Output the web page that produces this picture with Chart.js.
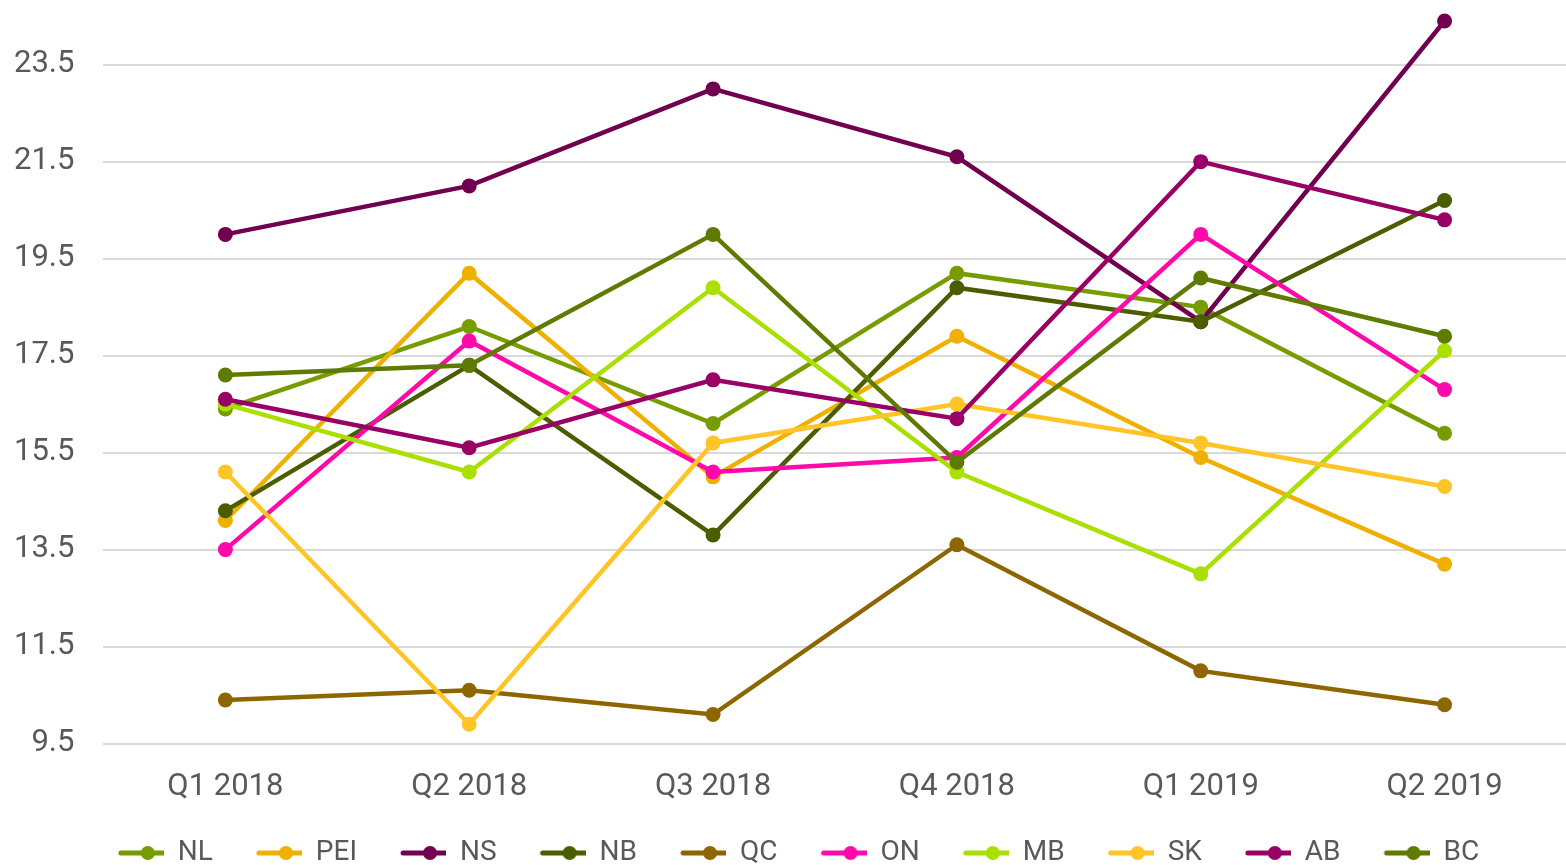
<!DOCTYPE html>
<html>
<head>
<meta charset="utf-8">
<script src="https://cdn.jsdelivr.net/npm/chart.js@4/dist/chart.umd.min.js"></script>
<style>
  html, body { margin: 0; padding: 0; background: #fff; overflow: hidden; }
  #wrap { width: 1574px; height: 907px; margin-top: -30px; }
</style>
</head>
<body>
<div id="wrap"><canvas id="lineChart"></canvas></div>
<script>
// Quarterly values by province
const quarters = ["Q1 2018", "Q2 2018", "Q3 2018", "Q4 2018", "Q1 2019", "Q2 2019"];
const yTicks = [9.5, 11.5, 13.5, 15.5, 17.5, 19.5, 21.5, 23.5];

const NL  = [16.4, 18.1, 16.1, 19.2, 18.5, 15.9];
const PEI = [14.1, 19.2, 15.0, 17.9, 15.4, 13.2];
const NS  = [20.0, 21.0, 23.0, 21.6, 18.2, 24.4];
const NB  = [14.3, 17.3, 13.8, 18.9, 18.2, 20.7];
const QC  = [10.4, 10.6, 10.1, 13.6, 11.0, 10.3];
const ON  = [13.5, 17.8, 15.1, 15.4, 20.0, 16.8];
const MB  = [16.5, 15.1, 18.9, 15.1, 13.0, 17.6];
const SK  = [15.1, 9.9, 15.7, 16.5, 15.7, 14.8];
const AB  = [16.6, 15.6, 17.0, 16.2, 21.5, 20.3];
const BC  = [17.1, 17.3, 20.0, 15.3, 19.1, 17.9];

const series = [
  ["NL", NL, "#779c00"],
  ["PEI", PEI, "#efb000"],
  ["NS", NS, "#70004f"],
  ["NB", NB, "#4a5d00"],
  ["QC", QC, "#8e6600"],
  ["ON", ON, "#ff0aaa"],
  ["MB", MB, "#a9e000"],
  ["SK", SK, "#ffc425"],
  ["AB", AB, "#990066"],
  ["BC", BC, "#5e7b00"]
];

// legend marker: short line with a dot, transparent gap on the left for spacing
const MARK_GAP = 38;
const MARK_W = MARK_GAP + 46;
function legendMarker(color) {
  const c = document.createElement("canvas");
  c.width = MARK_W; c.height = 18;
  const g = c.getContext("2d");
  g.strokeStyle = color;
  g.lineWidth = 5;
  g.lineCap = "round";
  g.beginPath(); g.moveTo(MARK_GAP + 3, 9); g.lineTo(MARK_GAP + 56, 9); g.stroke();
  g.fillStyle = color;
  g.beginPath(); g.arc(MARK_GAP + 30, 9, 7, 0, Math.PI * 2); g.fill();
  return c;
}

const datasets = series.map(([label, data, color], i) => ({
  label: label,
  data: data,
  borderColor: color,
  backgroundColor: color,
  borderWidth: 4.5,
  pointRadius: 7.5,
  pointHoverRadius: 7.5,
  pointBorderWidth: 0,
  tension: 0,
  clip: false,
  order: -i,
  marker: legendMarker(color)
}));

new Chart(document.getElementById("lineChart"), {
  type: "line",
  data: { labels: quarters, datasets: datasets },
  options: {
    responsive: true,
    maintainAspectRatio: false,
    animation: false,
    layout: { padding: { left: -15, right: 0, top: 0, bottom: 0 } },
    plugins: {
      tooltip: { enabled: false },
      legend: {
        position: "bottom",
        reverse: true,
        // empty title only used as vertical spacer above the legend row
        title: { display: true, text: " ", font: { size: 1 }, padding: { top: 0, bottom: 10 } },
        labels: {
          usePointStyle: true,
          pointStyleWidth: MARK_W,
          padding: 5,
          color: "#595959",
          font: { family: "Roboto", size: 28 },
          generateLabels(chart) {
            const items = Chart.defaults.plugins.legend.labels.generateLabels(chart);
            items.forEach(it => { it.pointStyle = chart.data.datasets[it.datasetIndex].marker; });
            return items;
          }
        }
      }
    },
    scales: {
      x: {
        offset: true,
        grid: { display: false },
        border: { display: false },
        ticks: {
          color: "#595959",
          padding: 17,
          maxRotation: 0,
          font: { family: "Roboto", size: 31 }
        }
      },
      y: {
        min: 9.5,
        max: 24.47,
        afterBuildTicks(axis) { axis.ticks = yTicks.map(v => ({ value: v })); },
        grid: { color: "#d9d9d9", lineWidth: 2, drawTicks: false },
        border: { display: false },
        ticks: {
          color: "#595959",
          padding: 29,
          font: { family: "Roboto", size: 31 },
          callback: v => v.toFixed(1)
        }
      }
    }
  }
});
</script>
</body>
</html>
